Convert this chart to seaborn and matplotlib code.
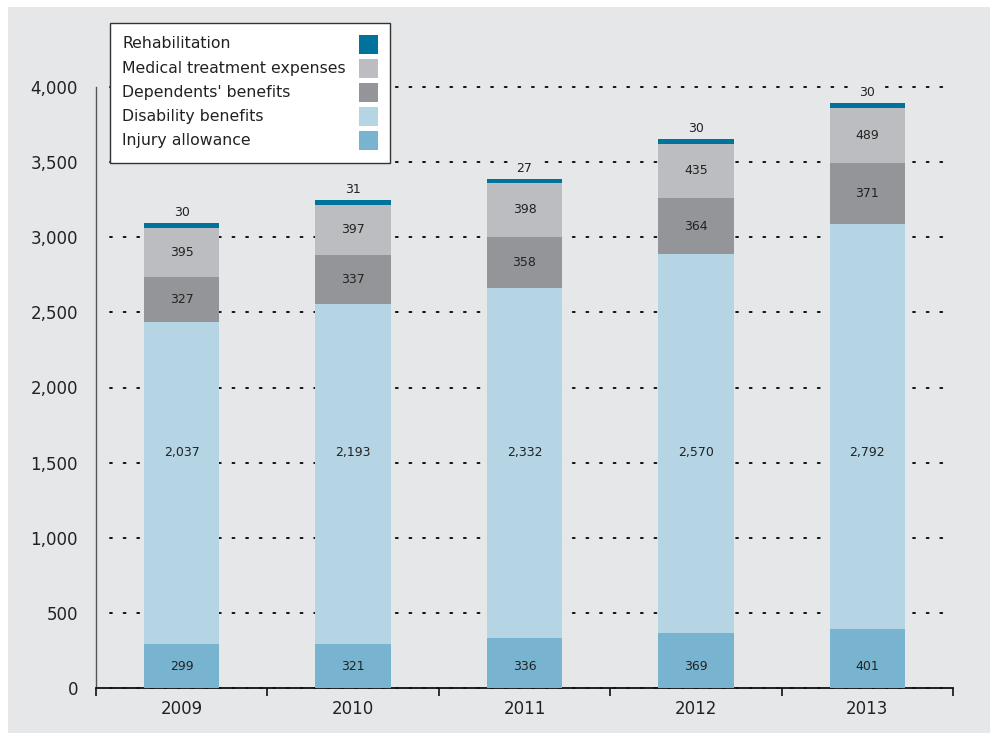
import matplotlib
matplotlib.use("Agg")
import matplotlib.pyplot as plt
import seaborn as sns
import pandas as pd
import numpy as np
from matplotlib.patches import Rectangle

years = ["2009", "2010", "2011", "2012", "2013"]

# bar segment heights as drawn in the picture
injury_allowance = [293, 293, 333, 366, 393]
disability_benefits = [2143, 2263, 2329, 2522, 2695]
dependents_benefits = [299, 326, 340, 373, 406]
medical_treatment = [327, 333, 359, 360, 366]
rehabilitation = [33, 33, 27, 33, 34]

# value labels printed on the bars
injury_labels = [299, 321, 336, 369, 401]
disability_labels = [2037, 2193, 2332, 2570, 2792]
dependents_labels = [327, 337, 358, 364, 371]
medical_labels = [395, 397, 398, 435, 489]
rehabilitation_labels = [30, 31, 27, 30, 30]

series_names = ["Injury allowance", "Disability benefits", "Dependents' benefits",
                "Medical treatment expenses", "Rehabilitation"]
series_values = [injury_allowance, disability_benefits, dependents_benefits,
                 medical_treatment, rehabilitation]
series_labels = [injury_labels, disability_labels, dependents_labels,
                 medical_labels, rehabilitation_labels]
colors = ["#78b4d0", "#b5d5e5", "#939598", "#bcbdc0", "#00739c"]
y_ticks = [0, 500, 1000, 1500, 2000, 2500, 3000, 3500, 4000]
BG = "#e6e7e9"

sns.set_theme(style="white")
plt.rcParams["font.family"] = ["DejaVu Sans"]

W, H = 990, 733
fig = plt.figure(figsize=(9.9, 7.33), dpi=100, facecolor="white")
bg = Rectangle((8 / W, 0), (W - 8) / W, (H - 7) / H,
               transform=fig.transFigure, facecolor=BG,
               edgecolor="none", zorder=-10)
fig.patches.append(bg)
ax = fig.add_axes([96 / W, 45 / H, (953 - 96) / W, (688 - 87) / H])
ax.set_facecolor("none")
ax.set_zorder(1)

rows = []
for name, vals in zip(series_names, series_values):
    for y, v in zip(years, vals):
        rows.append({"year": y, "series": name, "value": v})
df = pd.DataFrame(rows)
wide = df.pivot(index="year", columns="series", values="value")[series_names]
cum = wide.cumsum(axis=1)

# draw from top layer downward so lower layers overlay
for name, col in reversed(list(zip(series_names, colors))):
    d = cum[name].reset_index()
    sns.barplot(data=d, x="year", y=name, color=col, width=0.44,
                saturation=1, ax=ax, zorder=3, order=years, edgecolor="none",
                linewidth=0)

# labels
txt_kw = dict(ha="center", va="center", fontsize=9, color="#222222", zorder=5)
for i, y in enumerate(years):
    inj, dis, dep, med, reh = [wide.loc[y, n] for n in series_names]
    labs = [lst[i] for lst in series_labels]
    ax.text(i, 146, f"{labs[0]:,}", **txt_kw)
    ax.text(i, 1570, f"{labs[1]:,}", **txt_kw)
    ax.text(i, inj + dis + dep / 2, f"{labs[2]:,}", **txt_kw)
    ax.text(i, inj + dis + dep + med / 2, f"{labs[3]:,}", **txt_kw)
    ax.text(i, inj + dis + dep + med + reh + 67, f"{labs[4]:,}",
            bbox=dict(boxstyle="square,pad=0.25", facecolor=BG,
                      edgecolor="none"), **txt_kw)

ax.set_ylim(0, 4000)
ax.set_xlim(-0.5, 4.5)
ax.set_yticks(y_ticks)
ax.set_yticklabels([f"{t:,}" for t in y_ticks], fontsize=12, color="#222222")
ax.tick_params(axis="y", length=0, pad=13)
for t in y_ticks:
    ax.axhline(t, xmin=14 / 857, xmax=1.0, color="#111111", lw=1.4,
               linestyle=(0, (1, 6)), dash_capstyle="round", zorder=1,
               clip_on=False)

ax.set_xticks(np.arange(-0.5, 5, 1.0))
ax.set_xticklabels([])
ax.tick_params(axis="x", which="major", length=6, width=1.2, color="#111111",
               direction="out", bottom=True)
ax.set_xticks(range(len(years)), minor=True)
ax.set_xticklabels(years, minor=True, fontsize=12, color="#222222")
ax.tick_params(axis="x", which="minor", length=0, pad=9, bottom=True)
ax.set_xlabel("")
ax.set_ylabel("")

for s in ["top", "right"]:
    ax.spines[s].set_visible(False)
ax.spines["left"].set_color("#555555")
ax.spines["left"].set_linewidth(1.0)
ax.spines["bottom"].set_color("#111111")
ax.spines["bottom"].set_linewidth(1.3)

# legend drawn manually (labels left, swatches right)
leg_ax = fig.add_axes([0, 0, 1, 1], facecolor="none")
leg_ax.set_zorder(5)
leg_ax.set_xlim(0, W)
leg_ax.set_ylim(H, 0)
leg_ax.axis("off")
leg_ax.add_patch(Rectangle((110, 23), 280, 140, facecolor="white",
                           edgecolor="#333333", lw=1.0))
for j, (name, col) in enumerate(zip(series_names[::-1], colors[::-1])):
    yc = 44 + 24 * j
    leg_ax.text(122, yc, name, ha="left", va="center", fontsize=11.3,
                color="#222222")
    leg_ax.add_patch(Rectangle((359, yc - 9.5), 19, 19, facecolor=col,
                               edgecolor="none"))

fig.savefig("out.png", dpi=100, facecolor="white")
